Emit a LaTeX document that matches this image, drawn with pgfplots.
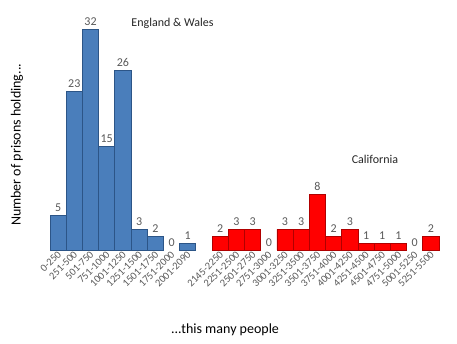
\documentclass[border=0pt]{standalone}
\usepackage{pgfplots}
\pgfplotsset{compat=1.18}
\usepackage{fontspec}
\setmainfont{Carlito}
\definecolor{ewblue}{HTML}{4A7EBB}
\definecolor{ewedge}{HTML}{2C5587}
\definecolor{caedge}{HTML}{B00000}
\definecolor{lblgray}{HTML}{595959}
\begin{document}
\begin{tikzpicture}
\path[use as bounding box] (0,0) rectangle (457pt,344pt);
\begin{axis}[
  at={(50pt,94pt)}, anchor=south west,
  scale only axis, width=389pt, height=234.6pt,
  xmin=-0.5, xmax=23.5, ymin=0, ymax=34,
  /pgf/number format/assume math mode=true,
  ybar=0pt, bar width=1,
  axis line style={draw=none}, tick style={draw=none},
  ytick=\empty,
  xtick={0,1,2,3,4,5,6,7,8,10,11,12,13,14,15,16,17,18,19,20,21,22,23},
  xticklabels={0-250,251-500,501-750,751-1000,1001-1250,1251-1500,1501-1750,1751-2000,2001-2090,2145-2250,2251-2500,2501-2750,2751-3000,3001-3250,3251-3500,3501-3750,3751-4000,4001-4250,4251-4500,4501-4750,4751-5000,5001-5250,5251-5500},
  xticklabel style={rotate=45, anchor=east, font=\fontsize{10.5}{11}\selectfont, text=lblgray, inner sep=1pt, xshift=3pt},
  nodes near coords,
  every node near coord/.append style={font=\fontsize{12}{12}\selectfont, text=lblgray},
  xlabel={...this many people},
  xlabel style={at={(axis description cs:0.45,-0.34)}, anchor=center, font=\fontsize{14}{14}\selectfont},
  ylabel={Number of prisons holding...},
  ylabel style={at={(axis description cs:-0.085,0.448)}, anchor=center, rotate=0, font=\fontsize{14}{14}\selectfont},
  clip=false,
]
\addplot+[/pgf/bar shift=0pt, fill=ewblue, draw=ewedge, line width=0.8pt] coordinates {(0,5)(1,23)(2,32)(3,15)(4,26)(5,3)(6,2)(8,1)};
\addplot+[/pgf/bar shift=0pt, fill=none, draw=none] coordinates {(7,0)};
\addplot+[/pgf/bar shift=0pt, fill=red, draw=caedge, line width=0.8pt] coordinates {(10,2)(11,3)(12,3)(14,3)(15,3)(16,8)(17,2)(18,3)(19,1)(20,1)(21,1)(23,2)};
\addplot+[/pgf/bar shift=0pt, fill=none, draw=none] coordinates {(13,0)(22,0)};
\node[anchor=west, font=\fontsize{12}{12}\selectfont, text=black!85] at (axis cs:4.31,32.9) {England \& Wales};
\node[anchor=west, font=\fontsize{12}{12}\selectfont, text=black!85] at (axis cs:17.9,13.2) {California};
\end{axis}
\end{tikzpicture}
\end{document}
